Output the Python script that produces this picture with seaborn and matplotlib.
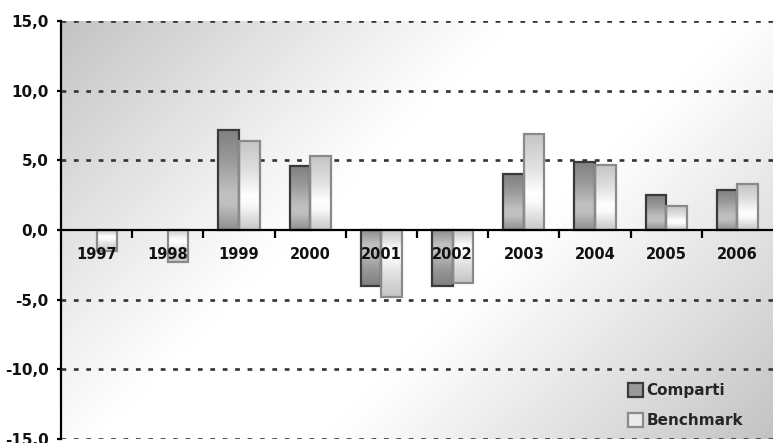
import numpy as np
import pandas as pd
import matplotlib
matplotlib.use("Agg")
import matplotlib.pyplot as plt
import seaborn as sns
from matplotlib.patches import Rectangle, Patch
from matplotlib.ticker import FixedLocator, NullFormatter, FuncFormatter

# Annual returns (%) of the sub-fund and its benchmark
years = ["1997", "1998", "1999", "2000", "2001", "2002", "2003", "2004", "2005", "2006"]
comparti = [np.nan, np.nan, 7.2, 4.6, -4.0, -4.0, 4.0, 4.9, 2.5, 2.9]
benchmark = [-1.5, -2.3, 6.4, 5.3, -4.8, -3.8, 6.9, 4.7, 1.7, 3.3]
series_names = ["Comparti", "Benchmark"]
y_ticks = [-15, -10, -5, 0, 5, 10, 15]

df = pd.DataFrame({
    "Anno": years * 2,
    "Valore": comparti + benchmark,
    "Serie": [series_names[0]] * len(years) + [series_names[1]] * len(years),
})

sns.set_theme(style="white")
plt.rcParams["font.family"] = ["DejaVu Sans"]
plt.rcParams["hatch.linewidth"] = 0.5

W, H = 773, 443
fig = plt.figure(figsize=(W / 100, H / 100), dpi=100)
fig.patch.set_facecolor("white")
ax = fig.add_axes([61 / W, 4 / H, 712 / W, 418 / H])
ax.set_facecolor("none")
ax.set_axisbelow(False)

# Diagonal grey-white-grey wash behind the plot area
ny, nx = 300, 500
u = np.linspace(0, 1, nx)[None, :]
v = np.linspace(0, 1, ny)[:, None]
t = (u * 712 + v * 418) / (712 + 418)
shade = 1 - 0.25 * np.clip((np.abs(t - 0.5) * 2 - 0.2) / 0.8, 0, 1) ** 1.1
bg = np.dstack([shade, shade, shade])
ax.imshow(bg, extent=(0, 1, 0, 1), transform=ax.transAxes, aspect="auto",
          zorder=0.1, interpolation="bilinear")
ax.add_patch(Rectangle((0, 0), 1, 1, transform=ax.transAxes, facecolor="none",
                       edgecolor=(1, 1, 1, 0.22), hatch="//////////", lw=0, zorder=0.2))

# Dotted horizontal guides
for yv in y_ticks:
    if yv != 0:
        ax.axhline(yv, color="#333333", lw=1.9, linestyle=(0, (1.8, 2.9)),
                   dash_capstyle="butt", zorder=0.5)

sns.barplot(data=df, x="Anno", y="Valore", hue="Serie", order=years,
            hue_order=series_names, palette=["#9a9a9a", "#e8e8e8"],
            width=0.58, saturation=1, legend=False, ax=ax, zorder=2)

# Shaded fills for each series: stops run from the far end of the bar to the baseline
fills = {
    "Comparti": dict(stops=[0.0, 0.3, 0.62, 0.75, 1.0],
                     shades=[0.5, 0.6, 0.75, 0.75, 0.56], edge="#3a3a3a"),
    "Benchmark": dict(stops=[0.0, 0.35, 0.62, 0.72, 1.0],
                      shades=[0.77, 0.88, 1.0, 0.98, 0.78], edge="#8a8a8a"),
}

for container, name in zip(ax.containers, series_names):
    st = fills[name]
    pos = np.linspace(0, 1, 200)
    g = np.interp(pos, st["stops"], st["shades"])
    for bar in container.patches:
        h = bar.get_height()
        if not np.isfinite(h) or h == 0:
            continue
        x0, w = bar.get_x(), bar.get_width()
        y0 = bar.get_y()
        lo, hi = min(y0, y0 + h), max(y0, y0 + h)
        col = g[::-1] if h > 0 else g
        img = np.dstack([col, col, col]).reshape(len(col), 1, 3)
        im = ax.imshow(img, extent=(x0, x0 + w, lo, hi), origin="lower",
                       aspect="auto", zorder=2.01, interpolation="bilinear")
        im.set_clip_path(bar)
        bar.set_facecolor("none")
        bar.set_edgecolor(st["edge"])
        bar.set_linewidth(1.6)
        bar.set_zorder(2.02)

ax.set_xlim(-0.5, len(years) - 0.5)
ax.set_ylim(y_ticks[0], y_ticks[-1])

# Category axis sits on the zero line, tick marks between the years
for s in ["top", "right"]:
    ax.spines[s].set_visible(False)
ax.spines["bottom"].set_position(("data", 0))
for s in ["left", "bottom"]:
    ax.spines[s].set_color("black")
    ax.spines[s].set_linewidth(1.6)
    ax.spines[s].set_zorder(3)

ax.xaxis.set_major_locator(FixedLocator(np.arange(len(years) - 1) + 0.5))
ax.xaxis.set_major_formatter(NullFormatter())
ax.set_xticks(np.arange(len(years)), labels=years, minor=True)
ax.tick_params(axis="x", which="major", direction="out", length=6, width=1.6,
               color="black", bottom=True)
ax.tick_params(axis="x", which="minor", length=0, pad=12, labelsize=10.5,
               labelcolor="#111111", bottom=True)
for lab in ax.get_xticklabels(minor=True):
    lab.set_fontweight("bold")
ax.xaxis.set_zorder(3)
ax.yaxis.set_zorder(3)

ax.set_yticks(y_ticks)
ax.yaxis.set_major_formatter(FuncFormatter(lambda val, _: f"{val:.1f}".replace(".", ",")))
ax.tick_params(axis="y", direction="out", length=3, width=1.6, color="black",
               pad=6, labelsize=11, labelcolor="#111111", left=True)
for lab in ax.get_yticklabels():
    lab.set_fontweight("bold")

ax.set_xlabel("")
ax.set_ylabel("")

handles = [Patch(facecolor="#9a9a9a", edgecolor="#3a3a3a", lw=1.6),
           Patch(facecolor="#ebebeb", edgecolor="#8a8a8a", lw=1.6)]
ax.legend(handles, series_names, loc="lower left",
          bbox_to_anchor=(620 / W, 1 - 436 / H), bbox_transform=fig.transFigure,
          frameon=False, borderpad=0, handlelength=1.0, handleheight=1.0,
          handletextpad=0.25, labelspacing=1.0,
          prop=dict(family="DejaVu Sans", weight="bold", size=11))

fig.savefig("out.png", dpi=100)
